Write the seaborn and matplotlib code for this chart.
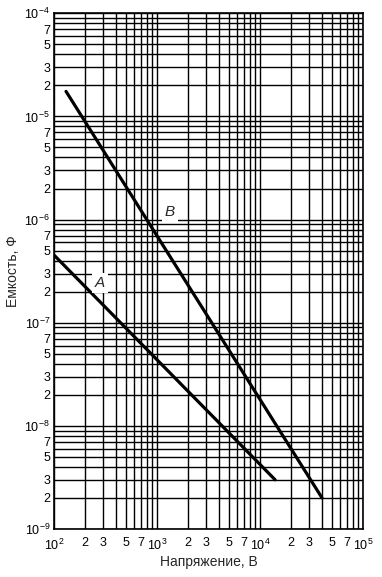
import matplotlib
matplotlib.use("Agg")
import matplotlib.pyplot as plt
import matplotlib.ticker as mticker
import seaborn as sns
import pandas as pd
import numpy as np

# Data
voltage_A = [100, 14000]
capacity_A = [4.5e-7, 3.0e-9]
voltage_B = [130, 40000]
capacity_B = [1.75e-5, 2.0e-9]
series_names = ["A", "B"]
x_label = "Напряжение, В"
y_label = "Емкость, Ф"
minor_labels = [2, 3, 5, 7]

sns.set_style("white")
plt.rcParams['font.family'] = ['Liberation Sans', 'DejaVu Sans']
plt.rcParams['mathtext.fontset'] = 'custom'
plt.rcParams['mathtext.rm'] = 'Liberation Sans'
plt.rcParams['mathtext.it'] = 'Liberation Sans:italic'

df = pd.concat([
    pd.DataFrame({"V": voltage_A, "C": capacity_A, "s": "A"}),
    pd.DataFrame({"V": voltage_B, "C": capacity_B, "s": "B"}),
])

fig = plt.figure(figsize=(3.82, 5.77), dpi=100)
ax = fig.add_axes([54.3/382, 1-529/577, (363-54.3)/382, (529-13.3)/577])

ax.set_xscale("log")
ax.set_yscale("log")
xlo, xhi, ylo, yhi = 2, 5, -9, -4
ax.set_xlim(10.0**xlo, 10.0**xhi)
ax.set_ylim(10.0**ylo, 10.0**yhi)

sns.lineplot(data=df, x="V", y="C", hue="s", palette={"A": "black", "B": "black"},
             linewidth=2.3, legend=False, ax=ax, zorder=5)

def majors(lo, hi):
    return [10.0**e for e in range(lo, hi + 1)]

def minors(lo, hi):
    return [k * 10.0**e for e in range(lo, hi) for k in range(2, 10)]

ax.xaxis.set_major_locator(mticker.FixedLocator(majors(xlo, xhi)))
ax.xaxis.set_minor_locator(mticker.FixedLocator(minors(xlo, xhi)))
ax.yaxis.set_major_locator(mticker.FixedLocator(majors(ylo, yhi)))
ax.yaxis.set_minor_locator(mticker.FixedLocator(minors(ylo, yhi)))

def major_fmt(v, pos):
    e = int(round(np.log10(v)))
    return r"$\mathdefault{10^{%d}}$" % e

def minor_fmt(v, pos):
    m = v / 10 ** np.floor(np.log10(v) + 1e-9)
    mi = int(round(m))
    return str(mi) if mi in minor_labels else ""

for axis in (ax.xaxis, ax.yaxis):
    axis.set_major_formatter(mticker.FuncFormatter(major_fmt))
    axis.set_minor_formatter(mticker.FuncFormatter(minor_fmt))

ax.grid(True, which="both", color="black", linewidth=1.0)
ax.tick_params(which="both", length=0, labelsize=9, colors="black")
ax.tick_params(axis="x", which="both", pad=6)
ax.tick_params(axis="y", which="both", pad=3)
for sp in ax.spines.values():
    sp.set_color("black")
    sp.set_linewidth(1.2)

ax.text(278, 2.44e-7, series_names[0], fontsize=11, style="italic", ha="center", va="center",
        bbox=dict(facecolor="white", edgecolor="none", pad=2), zorder=6)
ax.text(1330, 1.19e-6, series_names[1], fontsize=11, style="italic", ha="center", va="center",
        bbox=dict(facecolor="white", edgecolor="none", pad=2), zorder=6)

ax.set_xlabel(x_label, fontsize=10, labelpad=2)
ax.set_ylabel(y_label, fontsize=10, labelpad=3)

fig.savefig("out.png", dpi=100)
